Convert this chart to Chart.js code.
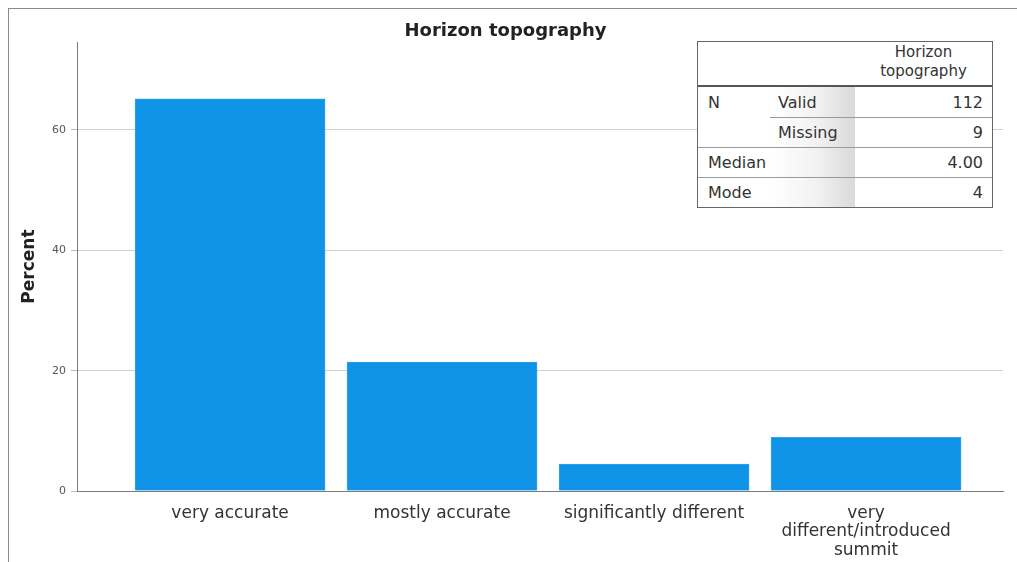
<!DOCTYPE html>
<html><head><meta charset="utf-8">
<script src="https://cdn.jsdelivr.net/npm/chart.js@4"></script>
<style>
body{margin:0;background:#fff;}
#wrap{position:relative;width:1017px;height:562px;overflow:hidden;font-family:"DejaVu Sans",sans-serif;background:#fff;}
#frame{position:absolute;left:8px;top:8px;width:1100px;height:600px;border-top:1px solid #8a8a8a;border-left:1px solid #8a8a8a;pointer-events:none;}
canvas{position:absolute;left:0;top:0;}
#stats{position:absolute;left:697px;top:41px;width:294px;height:165px;border:1px solid #666;background:#fff;color:#333;font-size:16px;}
#stats .sh{position:absolute;left:72px;width:85px;top:45px;height:120px;background:linear-gradient(to right,rgba(0,0,0,0) 0%,rgba(0,0,0,0.05) 55%,rgba(0,0,0,0.15) 100%);}
#stats .hline{position:absolute;right:0;height:1px;background:#9a9a9a;}
#stats .t{position:absolute;white-space:nowrap;line-height:18px;}
#stats .hd{position:absolute;left:157px;width:137px;top:1px;text-align:center;line-height:19px;font-size:15px;}
</style>
</head><body>
<div id="wrap">
<canvas id="c" width="1017" height="562"></canvas>
<div id="frame"></div>
<div id="stats"></div>
</div>
<script>
// ---- data ----
const categories = ["very accurate", "mostly accurate", "significantly different", ["very", "different/introduced", "summit"]];
const percents = [65.18, 21.43, 4.46, 8.93];
const yTicks = [0, 20, 40, 60];
const tableHeader = ["Horizon", "topography"];
const rowGroup = ["N", "N", "Median", "Mode"];
const rowSub = ["Valid", "Missing", "", ""];
const rowValues = ["112", "9", "4.00", "4"];

// ---- stats table ----
const st = document.getElementById('stats');
let html = '<div class="sh"></div>';
html += '<div class="hd">' + tableHeader.join('<br>') + '</div>';
html += '<div class="hline" style="left:0;top:43px;height:2px;background:#555"></div>';
const rowTops = [45, 76, 106, 136];
const rowH = [31, 30, 30, 30];
for (let i = 0; i < rowValues.length; i++) {
  const cy = rowTops[i] + rowH[i] / 2 - 9;
  if (i === 0 || rowGroup[i] !== rowGroup[i - 1]) html += '<div class="t" style="left:10px;top:' + cy + 'px">' + rowGroup[i] + '</div>';
  if (rowSub[i]) html += '<div class="t" style="left:80px;top:' + cy + 'px">' + rowSub[i] + '</div>';
  html += '<div class="t" style="right:9px;top:' + cy + 'px">' + rowValues[i] + '</div>';
  if (i > 0) {
    const left = rowGroup[i] === rowGroup[i - 1] ? 72 : 0;
    html += '<div class="hline" style="left:' + left + 'px;top:' + (rowTops[i] - 1) + 'px"></div>';
  }
}
st.innerHTML = html;

// ---- chart ----
const positions = categories.map((c, i) => i + 1);
new Chart(document.getElementById('c'), {
  type: 'bar',
  data: {
    datasets: [{
      data: positions.map((p, i) => ({ x: p, y: percents[i] })),
      backgroundColor: '#0f93e7',
      borderColor: '#35a2ea',
      borderWidth: 1,
      barThickness: 190
    }]
  },
  options: {
    responsive: false,
    animation: false,
    layout: { padding: { left: 8, right: 14, top: 0, bottom: 0 } },
    plugins: {
      legend: { display: false },
      tooltip: { enabled: false },
      title: {
        display: true, text: 'Horizon topography', color: '#222',
        font: { family: 'DejaVu Sans', size: 18, weight: 'bold' },
        padding: { top: 20.5, bottom: 0 }
      }
    },
    scales: {
      x: {
        type: 'linear', min: 0.278, max: 4.646, offset: false, bounds: 'ticks',
        grid: { display: false },
        border: { display: true, color: '#7a7a7a', width: 1 },
        afterBuildTicks: s => { s.ticks = positions.map(v => ({ value: v })); },
        ticks: {
          autoSkip: false, maxRotation: 0, minRotation: 0, padding: 5, color: '#333',
          font: { family: 'DejaVu Sans', size: 17, lineHeight: 1.1 },
          callback: v => categories[Math.round(v) - 1]
        },
        afterFit: s => { s.height = 71; }
      },
      y: {
        min: 0, max: 74.6,
        afterBuildTicks: s => { s.ticks = yTicks.map(v => ({ value: v })); },
        grid: { color: '#d0d0d0', tickLength: 6, tickColor: '#bdbdbd' },
        border: { color: '#7a7a7a' },
        ticks: { padding: 5, color: '#555', font: { family: 'DejaVu Sans', size: 11 } },
        title: {
          display: true, text: 'Percent', color: '#222',
          font: { family: 'DejaVu Sans', size: 17, weight: 'bold' },
          padding: { top: 11, bottom: 0 }
        },
        afterFit: s => { s.width = 69; }
      }
    }
  }
});
</script>
</body></html>
